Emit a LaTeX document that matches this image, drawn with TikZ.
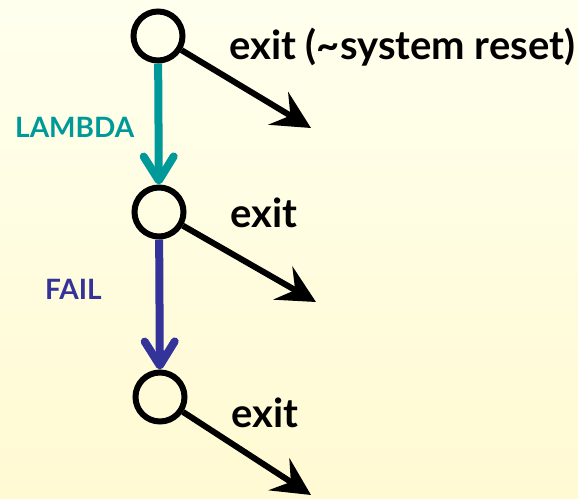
\documentclass[tikz,border=0pt]{standalone}
\usepackage{fontspec}
\setmainfont{Lato}
\usetikzlibrary{arrows.meta}
\definecolor{bgtop}{RGB}{255,255,238}
\definecolor{bgbot}{RGB}{255,250,210}
\definecolor{tealedge}{RGB}{0,153,153}
\definecolor{blueedge}{RGB}{51,51,153}
\tikzset{
  state/.style={circle, draw=black, line width=6pt, minimum size=49pt, inner sep=0pt},
  exitarrow/.style={draw=black, line width=6pt,
    -{Stealth[length=38pt, width=38pt, inset=14pt]}},
  steparrow/.style={line width=8pt,
    -{Straight Barb[length=24pt, width=30pt, line cap=round, line join=round]}},
  bigtxt/.style={font=\bfseries\fontsize{40}{44}\selectfont, inner sep=0pt},
  smalltxt/.style={font=\bfseries\fontsize{28}{32}\selectfont, inner sep=0pt},
}
\begin{document}
\begin{tikzpicture}[x=1pt, y=-1pt]
  \useasboundingbox (0,0) rectangle (578,498);
  \shade[top color=bgtop, bottom color=bgbot] (0,0) rectangle (578,498);

  % states
  \node[state] (c1) at (158,36) {};
  \node[state] (c2) at (159,212) {};
  \node[state] (c3) at (160,397) {};

  % free ends of the exit arrows
  \coordinate (t1) at (311,128);
  \coordinate (t2) at (316,302);
  \coordinate (t3) at (311,495);

  % transitions between states
  \draw[steparrow, draw=tealedge] (c1) -- (c2);
  \draw[steparrow, draw=blueedge] (c2) -- (c3);

  % exits
  \draw[exitarrow] (c1) -- (t1);
  \draw[exitarrow] (c2) -- (t2);
  \draw[exitarrow] (c3) -- (t3);

  % labels
  \node[bigtxt, anchor=base west] (l1) at (229,59) {exit (\char`\~system reset)};
  \node[bigtxt, anchor=base west] (l2) at (230,227) {exit};
  \node[bigtxt, anchor=base west] (l3) at (231,427) {exit};
  \node[smalltxt, anchor=base west, text=tealedge] (la) at (15,137) {LAMBDA};
  \node[smalltxt, anchor=base west, text=blueedge] (lf) at (45,299) {FAIL};
\end{tikzpicture}
\end{document}
